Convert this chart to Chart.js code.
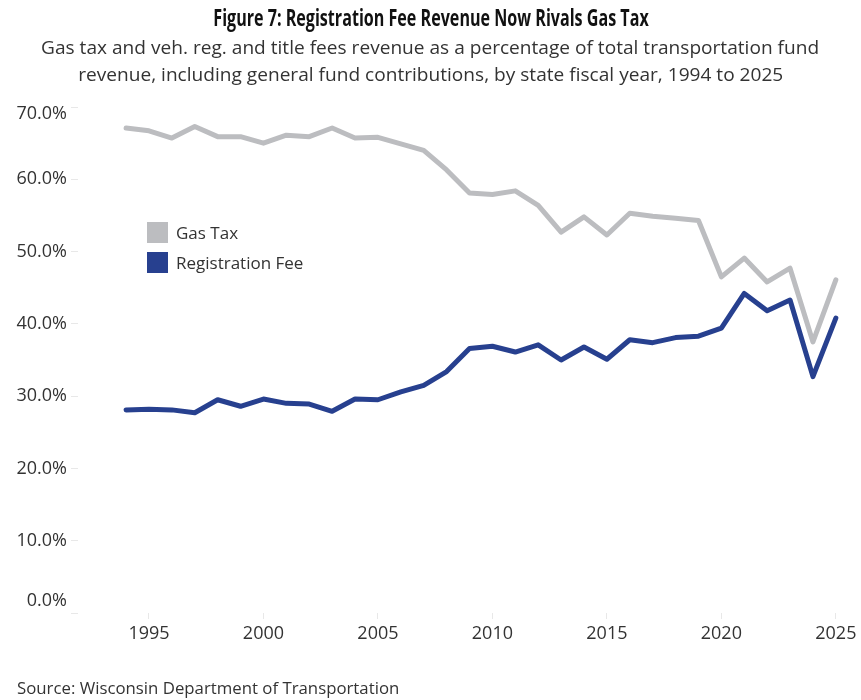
<!DOCTYPE html>
<html>
<head>
<meta charset="utf-8">
<title>Figure 7</title>
<script src="https://cdn.jsdelivr.net/npm/chart.js@4.4.1/dist/chart.umd.min.js"></script>
<style>
  html, body { margin: 0; padding: 0; background: #fff; }
  body { width: 861px; height: 700px; position: relative; overflow: hidden; font-family: "Open Sans", sans-serif; }
  #title { position: absolute; top: 1px; left: 0; width: 861px; text-align: center; font-weight: 700; font-size: 23px; color: #111; }
  #title span { display: inline-block; transform: scaleX(0.7); transform-origin: center; white-space: nowrap; }
  #subtitle { position: absolute; top: 34px; left: 0; width: 861px; text-align: center; font-size: 19px; line-height: 27px; color: #333; }
  #subtitle span { display: inline-block; transform: scaleX(1.005); white-space: nowrap; }
  #source { position: absolute; left: 17px; top: 676px; font-size: 16.8px; color: #333; }
  #legend { position: absolute; left: 147px; top: 217px; font-size: 17px; color: #333; }
  #legend div { height: 30px; display: flex; align-items: center; }
  #legend i { display: inline-block; width: 21px; height: 21px; margin-right: 8px; }
  #wrap { position: absolute; left: 0; top: 0; width: 861px; height: 700px; }
</style>
</head>
<body>
<div id="wrap"><canvas id="chart" width="861" height="700"></canvas></div>
<div id="title"><span>Figure 7: Registration Fee Revenue Now Rivals Gas Tax</span></div>
<div id="subtitle"><span>Gas tax and veh. reg. and title fees revenue as a percentage of total transportation fund</span><br><span>revenue, including general fund contributions, by state fiscal year, 1994 to 2025</span></div>
<div id="legend"></div>
<div id="source">Source: Wisconsin Department of Transportation</div>
<script>
// state fiscal years 1994 - 2025
const years = [1994, 1995, 1996, 1997, 1998, 1999, 2000, 2001, 2002, 2003, 2004,
  2005, 2006, 2007, 2008, 2009, 2010, 2011, 2012, 2013, 2014, 2015, 2016, 2017,
  2018, 2019, 2020, 2021, 2022, 2023, 2024, 2025];

// share of total transportation fund revenue (%)
const gasTax = [67.1, 66.7, 65.7, 67.3, 65.9, 65.9, 65.0, 66.1, 65.9, 67.1, 65.7,
  65.8, 64.9, 64.0, 61.3, 58.1, 57.9, 58.4, 56.4, 52.7, 54.8, 52.3, 55.3, 54.9,
  54.6, 54.3, 46.5, 49.1, 45.8, 47.7, 37.5, 46.1];
const regFee = [28.1, 28.2, 28.1, 27.7, 29.5, 28.6, 29.6, 29.0, 28.9, 27.9, 29.6,
  29.5, 30.6, 31.5, 33.4, 36.6, 36.9, 36.1, 37.1, 35.0, 36.8, 35.1, 37.8, 37.4,
  38.1, 38.3, 39.4, 44.2, 41.8, 43.3, 32.7, 40.8];

const yearTicks = [1995, 2000, 2005, 2010, 2015, 2020, 2025];
const pctTicks = [0, 10, 20, 30, 40, 50, 60, 70];

const seriesNames = ['Gas Tax', 'Registration Fee'];
const seriesColors = ['#bcbdc0', '#27408f'];

const toPoints = (vals) => vals.map((v, i) => ({ x: years[i], y: v }));

// keep the end labels of the y axis inside the plot height
const nudgeEdgeLabels = (axis) => {
  const base = Object.getPrototypeOf(axis).getLabelItems;
  axis.getLabelItems = function (area) {
    const items = base.call(this, area);
    if (items.length && !items._nudged) {
      items[0].options.translation[1] -= 12;
      items[items.length - 1].options.translation[1] += 7;
      items._nudged = true;
    }
    return items;
  };
};

const ctx = document.getElementById('chart').getContext('2d');
const chart = new Chart(ctx, {
  type: 'line',
  data: {
    datasets: [
      { label: seriesNames[0], data: toPoints(gasTax), borderColor: seriesColors[0] },
      { label: seriesNames[1], data: toPoints(regFee), borderColor: seriesColors[1] }
    ]
  },
  options: {
    responsive: false,
    animation: false,
    devicePixelRatio: 1,
    layout: { padding: { top: 107, right: 16, left: 0, bottom: 0 } },
    elements: {
      line: { borderWidth: 5, tension: 0, borderJoinStyle: 'round', borderCapStyle: 'round', fill: false },
      point: { radius: 0, hoverRadius: 0 }
    },
    plugins: { legend: { display: false }, tooltip: { enabled: false } },
    scales: {
      x: {
        type: 'linear',
        min: 1991.9,
        max: 2025.4,
        afterBuildTicks: (axis) => { axis.ticks = yearTicks.map(v => ({ value: v })); },
        afterFit: (axis) => { axis.height = 87; },
        border: { display: false },
        grid: { drawOnChartArea: false, color: '#e8e8e8', tickLength: 6 },
        ticks: {
          color: '#333',
          font: { family: 'Open Sans', size: 18 },
          padding: 4,
          maxRotation: 0,
          callback: (v) => String(v)
        }
      },
      y: {
        min: 0,
        max: 70,
        afterBuildTicks: (axis) => { axis.ticks = pctTicks.map(v => ({ value: v })); },
        afterFit: (axis) => { axis.width = 78; },
        afterUpdate: nudgeEdgeLabels,
        border: { display: false },
        grid: { drawOnChartArea: false, color: '#e8e8e8', tickLength: 7 },
        ticks: {
          color: '#333',
          font: { family: 'Open Sans', size: 18 },
          padding: 4,
          callback: (v) => v.toFixed(1) + '%'
        }
      }
    }
  }
});

// legend built from the datasets
const legend = document.getElementById('legend');
chart.data.datasets.forEach((ds) => {
  const row = document.createElement('div');
  row.innerHTML = '<i style="background:' + ds.borderColor + '"></i><span>' + ds.label + '</span>';
  legend.appendChild(row);
});
</script>
</body>
</html>
